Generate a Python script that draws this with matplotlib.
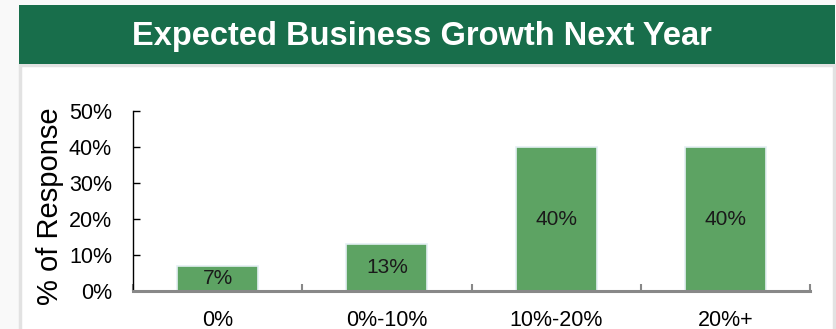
import matplotlib.pyplot as plt
import matplotlib.patches as mpatches
import numpy as np

plt.rc('font', family='Liberation Sans', size=15)

categories = ["0%", "0%-10%", "10%-20%", "20%+"]
responses = [0.07, 0.13, 0.40, 0.40]
value_labels = ["7%", "13%", "40%", "40%"]
y_ticks = [0.0, 0.1, 0.2, 0.3, 0.4, 0.5]
y_tick_labels = ["0%", "10%", "20%", "30%", "40%", "50%"]

BANNER_GREEN = '#186e4b'
BAR_GREEN = '#5da363'

fig = plt.figure(figsize=(8.36, 3.29), dpi=100, facecolor='#f9f9f9')

# white panel under the banner
fig.patches.append(mpatches.Rectangle((0.0245, -0.02), 0.973, 0.822,
                                      transform=fig.transFigure, facecolor='white',
                                      edgecolor='#e2e2e2', linewidth=2.5, zorder=0))
# green title banner
fig.patches.append(mpatches.Rectangle((0.0227, 0.8055), 0.976, 0.179,
                                      transform=fig.transFigure, facecolor=BANNER_GREEN,
                                      edgecolor='none', zorder=1))
fig.text(0.505, 0.889, "Expected Business Growth Next Year", color='white',
         fontsize=23.5, fontweight='bold', ha='center', va='center')

ax = fig.add_axes([0.159, 0.1155, 0.81, 0.5471])
ax.set_facecolor('none')
ax.set_zorder(5)

x = np.arange(len(categories))
bars = ax.bar(x, responses, width=0.48, color=BAR_GREEN, edgecolor='#e4eff3',
              linewidth=1.2, zorder=2)
for rect, val, txt in zip(bars, responses, value_labels):
    ax.text(rect.get_x() + rect.get_width() / 2, val / 2, txt,
            ha='center', va='center', fontsize=15, color='#1a1a1a', zorder=3)

ax.set_xlim(-0.5, len(categories) - 0.5)
ax.set_ylim(0, 0.5)
ax.set_yticks(y_ticks)
ax.set_yticklabels(y_tick_labels)
ax.set_xticks(x)
ax.set_xticklabels(categories)
ax.set_xticks(np.arange(-0.5, len(categories)), minor=True)

ax.tick_params(axis='y', direction='in', length=5, width=1, pad=15, labelsize=15.5)
ax.tick_params(axis='x', which='major', length=0, pad=14, labelsize=15.5)
ax.tick_params(axis='x', which='minor', direction='in', length=5, width=1.5, color='#888888')

for side in ['top', 'right']:
    ax.spines[side].set_visible(False)
ax.spines['left'].set_linewidth(1)
ax.spines['left'].set_color('black')
ax.spines['bottom'].set_linewidth(2.2)
ax.spines['bottom'].set_color('#888888')
ax.spines['bottom'].set_zorder(4)

ax.set_ylabel("% of Response", fontsize=21, va='center')
ax.yaxis.set_label_coords(-0.122, 0.47)

plt.savefig("out.png", dpi=100, facecolor=fig.get_facecolor())
